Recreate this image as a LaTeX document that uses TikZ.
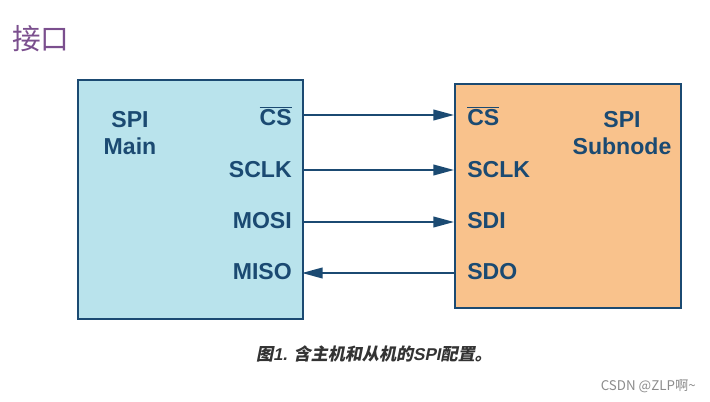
\documentclass[tikz,border=0pt]{standalone}
\usepackage{fontspec}
\setmainfont{Liberation Sans}
\newfontfamily\cjk{Noto Sans CJK SC}
\newfontfamily\capfont[FakeSlant=0.2]{Noto Sans CJK SC}
\newfontfamily\capfontlat[FakeSlant=0.2]{Liberation Sans}
\usetikzlibrary{arrows.meta}
\definecolor{dblue}{HTML}{1B4A72}
\definecolor{lblue}{HTML}{B9E3EC}
\definecolor{lorange}{HTML}{F9C28C}
\definecolor{purp}{HTML}{7B4F8E}
\tikzset{
  box/.style={draw=dblue, line width=1.5pt, inner sep=0pt},
  sig/.style={text=dblue, font=\fontsize{17.3}{19}\selectfont\bfseries, inner sep=0pt},
  conn/.style={draw=dblue, line width=1.4pt, -{Triangle[length=15.5pt,width=8pt]}},
}
\begin{document}
\begin{tikzpicture}[x=0.75pt,y=-0.75pt]
\useasboundingbox (0,0) rectangle (710,402);
\fill[white] (0,0) rectangle (710,402);
\node[anchor=west, text=purp, font=\cjk\fontsize{21.5}{23}\selectfont, inner sep=0pt] (title) at (12,39) {接口};
% boxes
\node[box, fill=lblue, minimum width=225*0.75pt, minimum height=239*0.75pt, anchor=north west] (main) at (77,79) {};
\node[box, fill=lorange, minimum width=226*0.75pt, minimum height=224*0.75pt, anchor=north west] (sub) at (454,83) {};
% titles
\node[sig, align=center] (mt) at (130,133) {SPI\\[1pt]Main};
\node[sig, align=center] (st) at (622,133) {SPI\\[1pt]Subnode};
% left labels
\node[sig, anchor=east] (mcs) at (292,116) {$\overline{\mbox{CS}}$};
\node[sig, anchor=east] (msclk) at (292,170) {SCLK};
\node[sig, anchor=east] (mmosi) at (292,221) {MOSI};
\node[sig, anchor=east] (mmiso) at (292,272) {MISO};
% right labels
\node[sig, anchor=west] (scs) at (467,116) {$\overline{\mbox{CS}}$};
\node[sig, anchor=west] (ssclk) at (467,170) {SCLK};
\node[sig, anchor=west] (ssdi) at (467,221) {SDI};
\node[sig, anchor=west] (ssdo) at (467,272) {SDO};
% pin coordinates
\coordinate (p1) at (302,115); \coordinate (q1) at (454,115);
\coordinate (p2) at (302,170); \coordinate (q2) at (454,170);
\coordinate (p3) at (302,222); \coordinate (q3) at (454,222);
\coordinate (p4) at (302,273); \coordinate (q4) at (454,273);
\draw[conn] (p1) -- (q1);
\draw[conn] (p2) -- (q2);
\draw[conn] (p3) -- (q3);
\draw[conn] (q4) -- (p4);
% caption
\node[text=black!80, inner sep=0pt, font=\fontsize{12.8}{14}\selectfont] (cap) at (374,354) {\capfont\bfseries 图\capfontlat\bfseries 1. \capfont\bfseries 含主机和从机的\capfontlat\bfseries SPI\capfont\bfseries 配置。};
\node[text=black!45, inner sep=0pt, anchor=east, font=\cjk\fontsize{10}{12}\selectfont] (wm) at (696,386) {CSDN @ZLP啊\textasciitilde};
\end{tikzpicture}
\end{document}
